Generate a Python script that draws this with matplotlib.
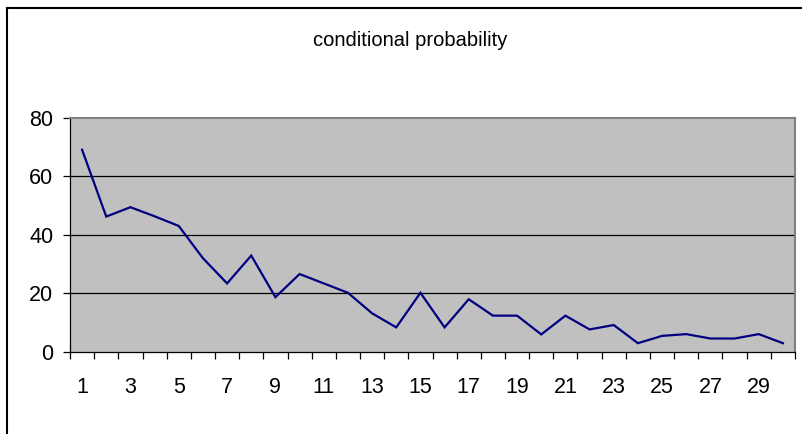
import matplotlib

matplotlib.use("Agg")
import matplotlib.pyplot as plt
from matplotlib.lines import Line2D
from matplotlib.ticker import FixedLocator, NullFormatter

# conditional probability per step (1..30)
steps = list(range(1, 31))
prob = [69, 46.2, 49.4, 46.3, 43.0, 32.0, 23.4, 32.9, 18.7, 26.6,
        23.4, 20.2, 13.2, 8.4, 20.2, 8.4, 18.0, 12.4, 12.4, 6.0,
        12.4, 7.7, 9.2, 3.0, 5.5, 6.1, 4.6, 4.6, 6.1, 3.0]
tick_labels = [str(s) for s in steps[::2]]
y_ticks = [0, 20, 40, 60, 80]

W, H, DPI = 803, 434, 100
plt.rcParams["font.family"] = ["Liberation Sans", "DejaVu Sans"]

fig = plt.figure(figsize=(W / DPI, H / DPI), dpi=DPI)
fig.patch.set_facecolor("white")

# plot area in pixels: left 70, right 795, top 117.5, bottom 352
ax = fig.add_axes([70 / W, (H - 352) / H, (795 - 70) / W, (352 - 117.5) / H])
ax.set_facecolor("#c0c0c0")

ax.plot(steps, prob, color="#000080", lw=1.6, solid_joinstyle="miter")

ax.set_xlim(0.5, 30.5)
ax.set_ylim(0, 80)

ax.set_yticks(y_ticks)
ax.set_yticklabels([str(v) for v in y_ticks])
for v in y_ticks[1:-1]:
    ax.axhline(v, color="black", lw=0.9, zorder=1)

ax.xaxis.set_major_locator(FixedLocator(steps[::2]))
ax.set_xticklabels(tick_labels)
ax.xaxis.set_minor_locator(FixedLocator([s + 0.5 for s in range(0, 31)]))
ax.xaxis.set_minor_formatter(NullFormatter())
ax.tick_params(axis="x", which="major", length=0, pad=18, labelsize=15.5)
ax.tick_params(axis="x", which="minor", length=5, width=0.9, color="black")
ax.tick_params(axis="y", length=5, width=0.9, pad=7, labelsize=15.5)

for side in ("top", "right"):
    ax.spines[side].set_color("#808080")
    ax.spines[side].set_linewidth(1.5)
for side in ("left", "bottom"):
    ax.spines[side].set_color("black")
    ax.spines[side].set_linewidth(0.9)

fig.text(410 / W, 1 - 40 / H, "conditional probability",
         ha="center", va="center", fontsize=14.5)

# chart frame along the left and top edges
fig.add_artist(Line2D([7.5 / W, 7.5 / W], [0, 1 - 7.5 / H],
                      transform=fig.transFigure, color="black", lw=1.5))
fig.add_artist(Line2D([7 / W, 1], [1 - 7.5 / H, 1 - 7.5 / H],
                      transform=fig.transFigure, color="black", lw=1.5))

fig.savefig("out.png", dpi=DPI, facecolor=fig.get_facecolor())
